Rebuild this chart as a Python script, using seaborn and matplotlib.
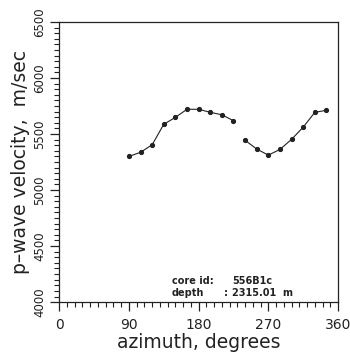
import matplotlib
matplotlib.use("Agg")
import matplotlib.pyplot as plt
from matplotlib.ticker import MultipleLocator
import seaborn as sns
import pandas as pd

az_seg1 = [90, 105, 120, 135, 150, 165, 180, 195, 210, 225]
vel_seg1 = [5300, 5337, 5404, 5587, 5649, 5721, 5721, 5694, 5672, 5619]
az_seg2 = [240, 255, 270, 285, 300, 315, 330, 345]
vel_seg2 = [5444, 5366, 5312, 5363, 5453, 5562, 5694, 5712]

x_ticks = [0, 90, 180, 270, 360]
y_ticks = [4000, 4500, 5000, 5500, 6000, 6500]

df = pd.DataFrame({
    "azimuth": az_seg1 + az_seg2,
    "velocity": vel_seg1 + vel_seg2,
    "segment": ["a"] * len(az_seg1) + ["b"] * len(az_seg2),
})

sns.set_style("ticks")
plt.rcParams["font.family"] = ["DejaVu Sans"]

ink = "#222222"
fig = plt.figure(figsize=(3.5, 3.55), dpi=100)
ax = fig.add_axes([0.169, 0.149, 0.797, 0.789])

sns.lineplot(data=df, x="azimuth", y="velocity", units="segment", estimator=None,
             color=ink, linewidth=0.8, marker="o", markersize=3.0,
             markeredgecolor=ink, ax=ax)

ax.set_xlim(0, 360)
ax.set_ylim(4000, 6500)
ax.set_xticks(x_ticks)
ax.set_yticks(y_ticks)
ax.xaxis.set_minor_locator(MultipleLocator(10))
ax.yaxis.set_minor_locator(MultipleLocator(50))
ax.tick_params(which="major", direction="out", length=6.5, width=0.9, colors=ink)
ax.tick_params(axis="x", which="major", labelsize=10, pad=5)
ax.tick_params(axis="y", which="major", labelsize=8.5, pad=3)
ax.tick_params(which="minor", direction="out", length=3.5, width=0.8, colors=ink)
for lab in ax.get_yticklabels():
    lab.set_rotation(90)
    lab.set_va("center")
for sp in ax.spines.values():
    sp.set_color(ink)
    sp.set_linewidth(0.9)

ax.set_xlabel("azimuth, degrees", fontsize=13.5, color=ink, labelpad=1)
ax.set_ylabel("p\u2013wave velocity,  m/sec", fontsize=13.5, color=ink, labelpad=2)

fs = 7
ax.text(0.405, 0.075, "core id:", transform=ax.transAxes, fontsize=fs,
        fontweight="bold", color=ink, va="center")
ax.text(0.62, 0.075, "556B1c", transform=ax.transAxes, fontsize=fs,
        fontweight="bold", color=ink, va="center")
ax.text(0.405, 0.032, "depth", transform=ax.transAxes, fontsize=fs,
        fontweight="bold", color=ink, va="center")
ax.text(0.59, 0.032, ":", transform=ax.transAxes, fontsize=fs,
        fontweight="bold", color=ink, va="center")
ax.text(0.62, 0.032, "2315.01  m", transform=ax.transAxes, fontsize=fs,
        fontweight="bold", color=ink, va="center")

fig.savefig("out.png", dpi=100)
